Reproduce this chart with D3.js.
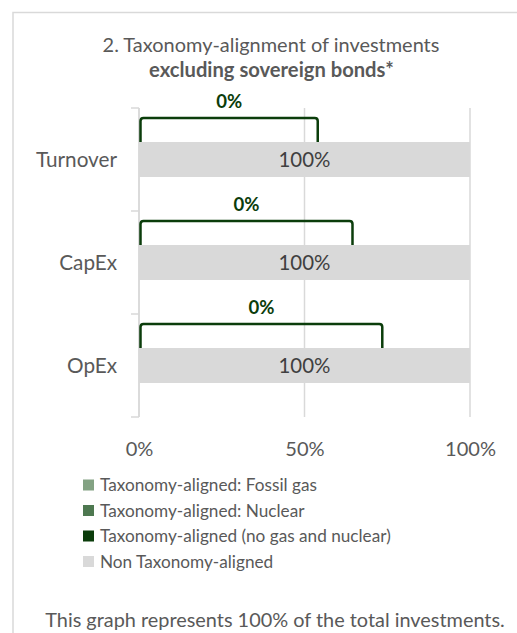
<!DOCTYPE html>
<html>
<head>
<meta charset="utf-8">
<script src="https://cdn.jsdelivr.net/npm/d3@7"></script>
<style>
  html, body { margin: 0; padding: 0; background: #fff; }
  svg { display: block; font-family: Lato, "Open Sans", sans-serif; }
</style>
</head>
<body>
<svg id="chart" width="517" height="633"></svg>
<script>
// ---- Data ----
const categories = ["Turnover", "CapEx", "OpEx"];
const seriesNames = [
  "Taxonomy-aligned: Fossil gas",
  "Taxonomy-aligned: Nuclear",
  "Taxonomy-aligned (no gas and nuclear)",
  "Non Taxonomy-aligned"
];
const fossilGas = [0, 0, 0];
const nuclear = [0, 0, 0];
const alignedNoGasNuclear = [0, 0, 0];
const nonAligned = [100, 100, 100];
const xTicks = [0, 50, 100];

// ---- Layout / style ----
const colors = ["#83a283", "#4e7850", "#0b3d0b", "#d9d9d9"];
const calloutSpan = [54, 64.5, 73.5]; // width of the bracket callout shapes (axis units)
const x0 = 139, x1 = 470, yTop = 108, yBot = 417;
const textColor = "#595959";

const svg = d3.select("#chart");

// scale the font so that a text gets the wanted width
function fit(sel, target) {
  const w = sel.node().getComputedTextLength();
  const fs = parseFloat(sel.style("font-size"));
  const nfs = fs * target / w;
  sel.style("font-size", nfs + "px");
  return nfs;
}

// frame
svg.append("rect")
  .attr("x", 13).attr("y", 12.5).attr("width", 540).attr("height", 660)
  .attr("fill", "none").attr("stroke", "#d9d9d9").attr("stroke-width", 1.5);

// title
const t1 = svg.append("text").attr("x", 271).attr("y", 52).attr("text-anchor", "middle")
  .attr("fill", textColor).style("font-size", "20px")
  .text("2. Taxonomy-alignment of investments");
fit(t1, 337);
const t2 = svg.append("text").attr("x", 271.5).attr("y", 77).attr("text-anchor", "middle")
  .attr("fill", textColor).style("font-size", "18px").style("font-weight", "bold")
  .text("excluding sovereign bonds*");
fit(t2, 245);

const x = d3.scaleLinear().domain([0, 100]).range([x0, x1]);
const y = d3.scaleBand().domain(categories).range([yTop, yBot])
  .paddingInner(0.66).paddingOuter(0.33);

// gridlines
svg.append("g").selectAll("line").data(xTicks).join("line")
  .attr("x1", d => x(d)).attr("x2", d => x(d))
  .attr("y1", yTop).attr("y2", yBot)
  .attr("stroke", "#d9d9d9").attr("stroke-width", 1.5);

// y axis with ticks at category boundaries
const yAxisG = svg.append("g");
yAxisG.append("line").attr("x1", x0).attr("x2", x0).attr("y1", yTop).attr("y2", yBot)
  .attr("stroke", "#d9d9d9").attr("stroke-width", 1.5);
const step = y.step();
const boundaries = d3.range(categories.length + 1).map(i => yTop + i * step);
yAxisG.selectAll("line.tk").data(boundaries).join("line").attr("class", "tk")
  .attr("x1", x0 - 8).attr("x2", x0).attr("y1", d => d).attr("y2", d => d)
  .attr("stroke", "#d9d9d9").attr("stroke-width", 1.5);

// category labels
const catText = svg.append("g").selectAll("text").data(categories).join("text")
  .attr("x", 117).attr("y", d => y(d) + y.bandwidth() / 2)
  .attr("dy", "0.35em").attr("text-anchor", "end")
  .attr("fill", textColor).style("font-size", "20px")
  .text(d => d);
const catSize = fit(catText.filter(d => d === "OpEx"), 50);
catText.style("font-size", catSize + "px");

// x axis labels
const xAxis = d3.axisBottom(x).tickValues(xTicks).tickFormat(d => d + "%").tickSize(0).tickPadding(0);
const xg = svg.append("g").attr("transform", `translate(0,${yBot + 32})`).call(xAxis);
xg.select(".domain").remove();
const xLab = xg.selectAll("text").attr("fill", textColor).style("font-size", "20px")
  .style("font-family", "Lato, 'Open Sans', sans-serif").attr("dy", "0.35em");
const xSize = fit(xLab.filter(d => d === 100), 51);
xLab.style("font-size", xSize + "px");

// stacked data
const rows = categories.map((c, i) => ({
  cat: c, fossil: fossilGas[i], nuclear: nuclear[i], aligned: alignedNoGasNuclear[i], non: nonAligned[i]
}));
const keys = ["fossil", "nuclear", "aligned", "non"];
const stack = d3.stack().keys(keys)(rows);

svg.append("g").selectAll("g").data(stack).join("g")
  .attr("fill", (d, i) => colors[i])
  .selectAll("rect").data(d => d).join("rect")
  .attr("x", d => x(d[0])).attr("width", d => x(d[1]) - x(d[0]))
  .attr("y", d => y(d.data.cat)).attr("height", y.bandwidth());

// labels for non-aligned (center of bar)
const barLab = svg.append("g").selectAll("text").data(stack[3]).join("text")
  .attr("x", d => x((d[0] + d[1]) / 2)).attr("y", d => y(d.data.cat) + y.bandwidth() / 2)
  .attr("dy", "0.35em").attr("text-anchor", "middle")
  .attr("fill", "#404040").style("font-size", "20px")
  .text(d => (d[1] - d[0]) + "%");
const barSize = fit(d3.select(barLab.nodes()[0]), 52);
barLab.style("font-size", barSize + "px");

// callout labels for the aligned series (bracket shape)
const callG = svg.append("g");
let zeroSize = null;
stack[2].forEach((d, i) => {
  const top = y(d.data.cat);
  const left = x(d[0]) + 1.5;
  const right = x(d[0] + calloutSpan[i]);
  const h = 24, r = 3;
  const p = d3.path();
  p.moveTo(left, top);
  p.lineTo(left, top - h + r);
  p.quadraticCurveTo(left, top - h, left + r, top - h);
  p.lineTo(right - r, top - h);
  p.quadraticCurveTo(right, top - h, right, top - h + r);
  p.lineTo(right, top);
  callG.append("path").attr("d", p.toString())
    .attr("fill", "none").attr("stroke", colors[2]).attr("stroke-width", 2.5);
  const lab = callG.append("text")
    .attr("x", (left + right) / 2).attr("y", top - h - 10)
    .attr("text-anchor", "middle")
    .attr("fill", colors[2]).style("font-size", "18px").style("font-weight", "bold")
    .text((d[1] - d[0]) + "%");
  if (zeroSize === null) zeroSize = fit(lab, 26);
  lab.style("font-size", zeroSize + "px");
});

// legend
const lg = svg.append("g");
const legRows = [485, 510.5, 536, 561.5];
let legSize = null;
seriesNames.forEach((name, i) => {
  const ly = legRows[i];
  lg.append("rect").attr("x", 83).attr("y", ly - 5.5).attr("width", 11).attr("height", 11)
    .attr("fill", colors[i]);
  const t = lg.append("text").attr("x", 100).attr("y", ly).attr("dy", "0.35em")
    .attr("fill", textColor).style("font-size", "17px").text(name);
  if (legSize === null) legSize = fit(t, 217);
  t.style("font-size", legSize + "px");
});

// footnote
const foot = svg.append("text").attr("x", 275).attr("y", 627).attr("text-anchor", "middle")
  .attr("fill", textColor).style("font-size", "19px")
  .text("This graph represents 100% of the total investments.");
fit(foot, 460);
</script>
</body>
</html>
